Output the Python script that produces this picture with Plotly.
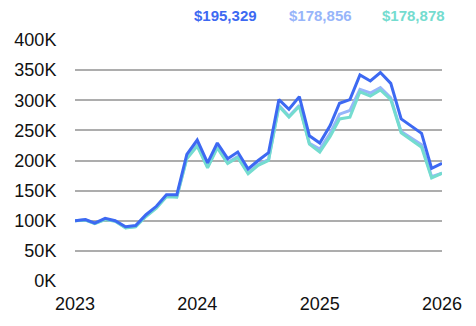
import plotly.graph_objects as go
import pandas as pd

# Monthly portfolio value, Jan 2023 - Jan 2026
months = pd.date_range("2023-01-01", "2026-01-01", freq="MS")

portfolio_a = [
    100000, 102000, 96000, 104000, 100000, 90000, 92000, 110000, 124000, 143000,
    143000, 210000, 234000, 196000, 229000, 203000, 214000, 186000, 200000, 213000,
    301000, 285000, 306000, 241000, 229000, 258000, 295000, 301000, 342000, 332000,
    346000, 328000, 269000, 257000, 245000, 187000, 195329,
]
portfolio_b = [
    100000, 101500, 95500, 102500, 99500, 88500, 90500, 108000, 122000, 141000,
    140000, 204500, 225500, 189500, 222500, 196500, 206500, 179500, 193500, 201500,
    291500, 273500, 291500, 228500, 219000, 245000, 277000, 283000, 318000, 312000,
    321000, 304000, 248000, 237000, 226000, 173000, 178856,
]
portfolio_c = [
    100000, 101000, 95000, 102000, 99000, 88000, 90000, 107000, 121000, 140000,
    139000, 203000, 224000, 188000, 221000, 195000, 205000, 178000, 192000, 200000,
    290000, 272000, 290000, 227000, 214000, 240000, 269000, 272000, 314000, 307000,
    317000, 301000, 246000, 234000, 222000, 171000, 178878,
]

series = [
    ("A", portfolio_a, "#3d69f2"),
    ("B", portfolio_b, "#97b5fa"),
    ("C", portfolio_c, "#74dccf"),
]
# stacking order of the lines, bottom to top
draw_order = [1, 2, 0]

y_ticks = [0, 50000, 100000, 150000, 200000, 250000, 300000, 350000, 400000]
y_labels = ["0K", "50K", "100K", "150K", "200K", "250K", "300K", "350K", "400K"]
x_ticks = ["2023-01-01", "2024-01-01", "2025-01-01", "2026-01-01"]
x_labels = ["2023", "2024", "2025", "2026"]

fig = go.Figure()
for i in draw_order:
    name, vals, color = series[i]
    fig.add_trace(go.Scatter(
        x=months, y=vals, mode="lines", name=name,
        line=dict(color=color, width=3), hoverinfo="skip",
    ))

# final values shown above the plot
label_x = [0.411, 0.668, 0.921]
for (name, vals, color), lx in zip(series, label_x):
    fig.add_annotation(
        x=lx, y=1.1, xref="paper", yref="paper",
        text=f"<b>${vals[-1]:,.0f}</b>", showarrow=False,
        font=dict(color=color, size=15, family="Liberation Sans, Arial"),
        xanchor="center", yanchor="middle",
    )

fig.update_layout(
    width=476, height=326,
    margin=dict(l=75, r=34, t=40, b=36),
    paper_bgcolor="white", plot_bgcolor="white",
    showlegend=False,
    font=dict(family="Liberation Sans, Arial", size=18, color="#111111"),
)
fig.update_xaxes(
    range=["2023-01-01", "2026-01-01"],
    tickvals=x_ticks, ticktext=x_labels,
    showgrid=False, zeroline=False, showline=False,
    ticks="outside", ticklen=6, tickcolor="rgba(0,0,0,0)",
)
fig.update_yaxes(
    range=[0, 400000],
    tickvals=y_ticks, ticktext=y_labels,
    showgrid=True, gridcolor="#adadad", gridwidth=1.5,
    zeroline=False, showline=False,
    ticks="outside", ticklen=14, tickcolor="rgba(0,0,0,0)",
)

fig.write_html("out.html")
